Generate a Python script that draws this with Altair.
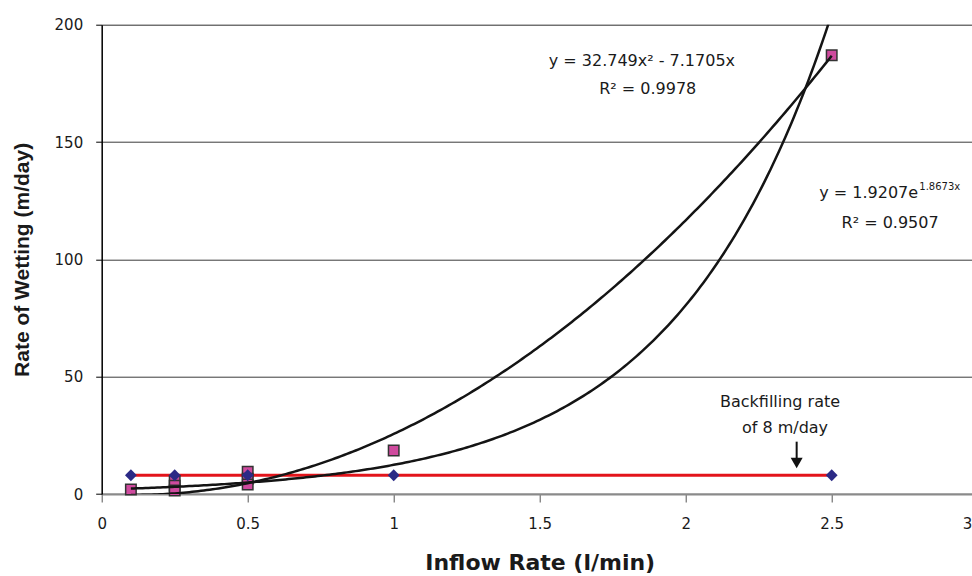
import altair as alt
import pandas as pd

# Measured rate of wetting at each inflow rate
inflow_measured = [0.1, 0.25, 0.25, 0.25, 0.5, 0.5, 0.5, 1.0, 2.5]
wetting_measured = [1.9, 5.5, 3.5, 1.5, 9.5, 6.5, 4.0, 18.5, 187.0]

# Backfilling rate (constant 8 m/day) at the same inflow rates
inflow_backfill = [0.1, 0.25, 0.5, 1.0, 2.5]
backfill_rate = [8, 8, 8, 8, 8]

# Trend line coefficients (polynomial through origin and exponential)
POLY_A = 32.749
POLY_B = -7.1705
POLY_R2 = 0.9978
EXP_A = 1.9207
EXP_K = 1.8673
EXP_R2 = 0.9507
TREND_START = 0.1
TREND_END = 2.5

x_ticks = [0, 0.5, 1, 1.5, 2, 2.5, 3]
y_ticks = [0, 50, 100, 150, 200]

measured = pd.DataFrame({"inflow": inflow_measured, "wetting": wetting_measured})
backfill = pd.DataFrame({"inflow": inflow_backfill, "wetting": backfill_rate})

TEXT_FONT = "DejaVu Sans"
TEXT_COLOR = "#1a1a1a"

# The 0-3 axis runs slightly past the right edge of the page; a negative
# right padding keeps the page at its size and lets the overflow be clipped.
PLOT_LEFT = 101.7
PAGE_WIDTH = 972
PLOT_WIDTH = 876

x_scale = alt.Scale(domain=[0, 3], nice=False, zero=False)
y_scale = alt.Scale(domain=[0, 200], nice=False)

last_tick = f"datum.value == {x_ticks[-1]}"
x_axis = alt.Axis(
    values=x_ticks, format=".1~f", grid=False,
    domainColor="#8a8a8a", domainWidth=2,
    tickColor="#555555", tickSize=8, tickWidth=1,
    labelFont=TEXT_FONT, labelFontSize=15, labelColor=TEXT_COLOR, labelPadding=14,
    labelAlign={"condition": {"test": last_tick, "value": "right"}, "value": "center"},
    labelOffset={"condition": {"test": last_tick, "value": -6}, "value": 0},
    title="Inflow Rate (l/min)", titleFont=TEXT_FONT, titleFontSize=22,
    titleFontWeight="bold", titleColor=TEXT_COLOR, titlePadding=21,
)
y_axis = alt.Axis(
    values=y_ticks, grid=True, gridColor="#3a3a3a", gridWidth=1,
    domainColor="#000000", domainWidth=1.5,
    tickColor="#000000", tickSize=6, tickWidth=1,
    labelFont=TEXT_FONT, labelFontSize=15, labelColor=TEXT_COLOR, labelPadding=13,
    title="Rate of Wetting (m/day)", titleFont="Liberation Sans", titleFontSize=21,
    titleFontWeight="bold", titleColor=TEXT_COLOR, titlePadding=22,
)

# Backfilling rate line
backfill_line = alt.Chart(backfill).mark_line(color="#E3141B", strokeWidth=3).encode(
    x=alt.X("inflow:Q", scale=x_scale, axis=x_axis),
    y=alt.Y("wetting:Q", scale=y_scale, axis=y_axis),
)

# Measured wetting rates
measured_pts = alt.Chart(measured).mark_point(
    shape="square", filled=True, size=110, fill="#CF4A9E",
    stroke="#333333", strokeWidth=1.5, opacity=1,
).encode(x="inflow:Q", y="wetting:Q")

# Fitted trend curves
trend = (
    alt.Chart(alt.sequence(TREND_START, TREND_END + 0.0001, 0.01, as_="inflow"))
    .transform_calculate(
        poly=f"{POLY_A}*datum.inflow*datum.inflow + ({POLY_B})*datum.inflow",
        expo=f"{EXP_A}*exp({EXP_K}*datum.inflow)",
    )
    .transform_fold(["poly", "expo"], as_=["fit", "wetting"])
    .mark_line(color="#141414", strokeWidth=2.5, clip=True)
    .encode(x="inflow:Q", y="wetting:Q", detail="fit:N")
)

# Backfilling rate markers
backfill_pts = alt.Chart(backfill).mark_point(
    shape="diamond", filled=True, size=140, color="#2B2A86", opacity=1,
).encode(x="inflow:Q", y="wetting:Q")


def label(text, x, y, align="center", size=16, baseline="middle"):
    return alt.Chart().mark_text(
        text=text, align=align, baseline=baseline, font=TEXT_FONT,
        fontSize=size, color=TEXT_COLOR,
    ).encode(x=alt.datum(x), y=alt.datum(y))


poly_eq = f"y = {POLY_A}x\u00b2 - {abs(POLY_B)}x"
poly_r2 = f"R\u00b2 = {POLY_R2}"
exp_eq = f"y = {EXP_A}e"
exp_pow = f"{EXP_K}x"
exp_r2 = f"R\u00b2 = {EXP_R2}"

annotations = [
    label(poly_eq, 1.85, 184.5),
    label(poly_r2, 1.87, 172.5),
    label(exp_eq, 2.796, 126.2, align="right", baseline="alphabetic"),
    label(exp_pow, 2.80, 129.4, align="left", size=10, baseline="alphabetic"),
    label(exp_r2, 2.70, 115.6),
    label("Backfilling rate", 2.323, 39.2),
    label("of 8 m/day", 2.34, 28.2),
]

# Arrow pointing at the backfilling line
arrow_shaft = alt.Chart().mark_rule(color="#111111", strokeWidth=2).encode(
    x=alt.datum(2.38), y=alt.datum(22.3), y2=alt.datum(13.5),
)
arrow_head = alt.Chart().mark_point(
    shape="triangle-down", filled=True, size=144, color="#111111", opacity=1,
).encode(x=alt.datum(2.38), y=alt.datum(13.2))

chart = alt.layer(
    backfill_line, measured_pts, trend, backfill_pts,
    *annotations, arrow_shaft, arrow_head,
).properties(
    width=PLOT_WIDTH, height=469.3,
    padding={"left": PLOT_LEFT, "top": 24.7,
             "right": PAGE_WIDTH - PLOT_LEFT - PLOT_WIDTH, "bottom": 82},
    autosize="none",
).configure_view(strokeWidth=0).configure(background="white")

chart.save("out.html", embed_options={"renderer": "svg", "actions": False})
